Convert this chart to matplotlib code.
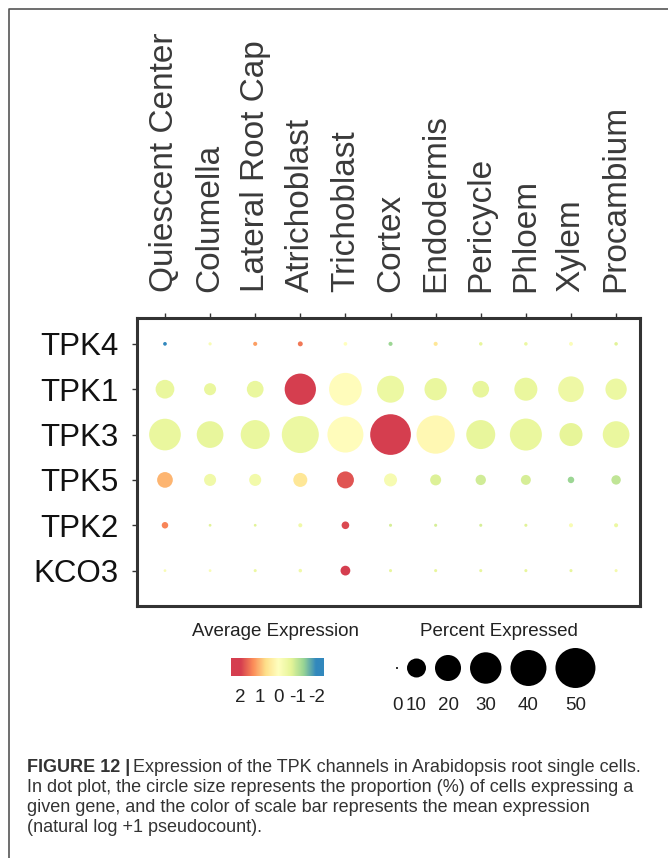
import numpy as np
import matplotlib
matplotlib.use("Agg")
import matplotlib.pyplot as plt
from matplotlib.colors import LinearSegmentedColormap
from matplotlib.lines import Line2D

plt.rcParams['font.family'] = ['Liberation Sans', 'DejaVu Sans']

# datos
tipos_celula = ['Quiescent Center', 'Columella', 'Lateral Root Cap', 'Atrichoblast',
                'Trichoblast', 'Cortex', 'Endodermis', 'Pericycle', 'Phloem',
                'Xylem', 'Procambium']
genes = ['TPK4', 'TPK1', 'TPK3', 'TPK5', 'TPK2', 'KCO3']

# porcentaje de celulas que expresan (%)
pct_TPK4 = [0.1, 0.05, 0.15, 0.3, 0.1, 0.15, 0.15, 0.08, 0.08, 0.12, 0.08]
pct_TPK1 = [9.7, 3.5, 7.5, 29.7, 32.6, 21.6, 14.3, 7.5, 15.3, 19.4, 12.9]
pct_TPK3 = [30.5, 21.1, 25.2, 42.4, 40.0, 51.8, 45.6, 25.2, 31.2, 15.3, 21.1]
pct_TPK5 = [6.5, 3.5, 3.5, 5.0, 7.8, 4.2, 2.8, 2.4, 2.2, 0.7, 1.9]
pct_TPK2 = [0.7, 0.02, 0.02, 0.14, 1.1, 0.04, 0.04, 0.04, 0.04, 0.14, 0.14]
pct_KCO3 = [0.02, 0.02, 0.04, 0.08, 2.1, 0.04, 0.04, 0.04, 0.04, 0.04, 0.04]

# expresion promedio (escalada)
exp_TPK4 = [-2.0, -0.2, 1.2, 1.5, 0.0, -1.3, 0.5, -0.6, -0.5, -0.1, -0.7]
exp_TPK1 = [-0.55, -0.55, -0.55, 2.0, 0.05, -0.5, -0.55, -0.6, -0.55, -0.45, -0.5]
exp_TPK3 = [-0.55, -0.6, -0.55, -0.5, 0.05, 2.0, 0.15, -0.6, -0.55, -0.65, -0.55]
exp_TPK5 = [1.0, -0.4, -0.35, 0.5, 1.8, -0.25, -0.75, -0.85, -0.8, -1.3, -1.0]
exp_TPK2 = [1.4, -0.7, -0.7, -0.4, 1.9, -0.8, -0.8, -0.8, -0.7, -0.2, -0.5]
exp_KCO3 = [-0.2, -0.2, -0.5, -0.4, 2.0, -0.6, -0.6, -0.6, -0.6, -0.6, -0.3]

leyenda_pct = [0, 10, 20, 30, 40, 50]
ticks_color = [2, 1, 0, -1, -2]

pct = np.array([pct_TPK4, pct_TPK1, pct_TPK3, pct_TPK5, pct_TPK2, pct_KCO3])
expr = np.array([exp_TPK4, exp_TPK1, exp_TPK3, exp_TPK5, exp_TPK2, exp_KCO3])

W, H, DPI = 668, 858, 100
fig = plt.figure(figsize=(W / DPI, H / DPI), dpi=DPI)

def ejes_px(x0, y0, x1, y1):
    # crea ejes a partir de coordenadas en pixeles (origen arriba a la izquierda)
    return fig.add_axes([x0 / W, 1 - y1 / H, (x1 - x0) / W, (y1 - y0) / H])

def diametro(p):
    # diametro en pixeles segun el porcentaje
    return 2 + 38 * np.sqrt(np.asarray(p) / 50.0)

def area(p):
    return (diametro(p) * 72.0 / DPI) ** 2

cmap = LinearSegmentedColormap.from_list(
    'spec', ['#3288bd', '#99d594', '#e6f598', '#ffffbf', '#fee08b', '#fc8d59', '#d53e4f'])

# marco de la figura
marco = fig.add_axes([0, 0, 1, 1])
marco.set_xlim(0, W)
marco.set_ylim(H, 0)
marco.axis('off')
marco.add_line(Line2D([8.5, 8.5, W], [H, 8.5, 8.5], color='#555555', lw=1.2))

# grafico de puntos
ax = ejes_px(137, 318, 640, 606)
xx, yy = np.meshgrid(np.arange(len(tipos_celula)), np.arange(len(genes)))
ax.scatter(xx.ravel(), yy.ravel(), s=area(pct.ravel()), c=expr.ravel(),
           cmap=cmap, vmin=-2, vmax=2, linewidths=0)
ax.set_xlim(-0.62, 10.53)
ax.set_ylim(5.78, -0.57)
ax.xaxis.tick_top()
ax.set_xticks(range(len(tipos_celula)))
ax.set_xticklabels(tipos_celula, rotation=90, fontsize=24, color='#3a3a3a')
ax.set_yticks(range(len(genes)))
ax.set_yticklabels(genes, fontsize=22.5, color='#111111')
ax.tick_params(axis='x', length=3.5, width=1, color='#333333', pad=15)
ax.tick_params(axis='y', length=3.5, width=1, color='#333333', pad=10)
for sp in ax.spines.values():
    sp.set_linewidth(2.2)
    sp.set_color('#333333')

# leyenda de color
fig.text(275 / W, 1 - 631 / H, 'Average Expression', ha='center', va='center',
         fontsize=13.5, color='#222222')
axc = ejes_px(231, 658, 324, 676)
grad = np.linspace(2.5, -2.4, 300)[None, :]
axc.imshow(grad, extent=[2.5, -2.4, 0, 1], aspect='auto', cmap=cmap, vmin=-2, vmax=2)
axc.set_xlim(2.5, -2.4)
axc.set_ylim(0, 1)
axc.set_yticks([])
axc.set_xticks(ticks_color)
axc.set_xticklabels([str(t) for t in ticks_color], fontsize=13.5, color='#222222')
axc.tick_params(axis='x', length=0, pad=9)
for sp in axc.spines.values():
    sp.set_visible(False)

# leyenda de tamano
fig.text(499 / W, 1 - 631 / H, 'Percent Expressed', ha='center', va='center',
         fontsize=13.5, color='#222222')
axs = ejes_px(380, 645, 610, 725)
axs.set_xlim(380, 610)
axs.set_ylim(725, 645)
axs.axis('off')
d = diametro(leyenda_pct)
xs = [397.0]
for i in range(1, len(d)):
    xs.append(xs[-1] + (d[i - 1] + d[i]) / 2 + 9)
axs.scatter(xs, [668] * len(xs), s=area(leyenda_pct), c='black', linewidths=0)
for x, p in zip(xs, leyenda_pct):
    axs.text(x, 705, str(p), ha='center', va='center', fontsize=13.5, color='#222222')

# pie de figura
r = fig.canvas.get_renderer()
lineas = ['Expression of the TPK channels in Arabidopsis root single cells.',
          'In dot plot, the circle size represents the proportion (%) of cells expressing a',
          'given gene, and the color of scale bar represents the mean expression',
          '(natural log +1 pseudocount).']
y0, dy = 767, 20.3
t = fig.text(27 / W, 1 - y0 / H, 'FIGURE 12 |', fontsize=13, fontweight='bold',
             color='#333333', va='center', ha='left')
bb = t.get_window_extent(renderer=r)
fig.text((bb.x1 + 3) / W, 1 - y0 / H, lineas[0], fontsize=13, color='#333333',
         va='center', ha='left')
for i, linea in enumerate(lineas[1:], start=1):
    fig.text(27 / W, 1 - (y0 + i * dy) / H, linea, fontsize=13, color='#333333',
             va='center', ha='left')

fig.savefig('out.png', dpi=DPI)
